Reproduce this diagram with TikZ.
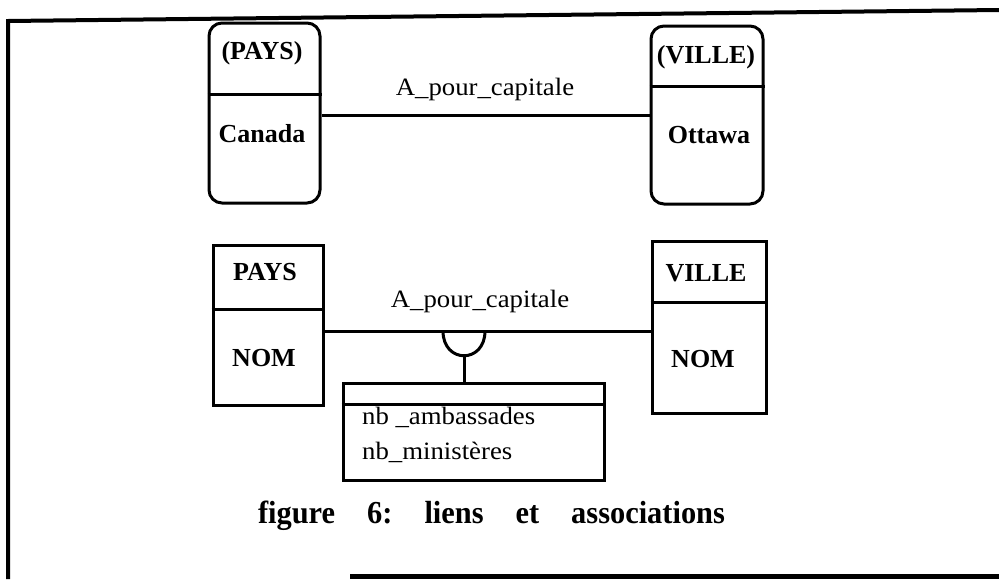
\documentclass[tikz,border=0pt]{standalone}
\usepackage{fontspec}
\setmainfont{Liberation Serif}
\newfontfamily\labfont[FakeStretch=1.07]{Liberation Serif}
\newfontfamily\capfont[FakeStretch=0.95]{Liberation Serif}
\begin{document}
\begin{tikzpicture}[x=1pt,y=-1pt,
  boxr/.style={draw, line width=3pt, rounded corners=13pt, inner sep=0pt},
  boxs/.style={draw, line width=3pt, inner sep=0pt},
  divline/.style={line width=3pt},
  link/.style={line width=3pt},
  frameline/.style={line width=4pt},
  bt/.style={font=\fontsize{26}{30}\selectfont\bfseries, anchor=base, inner sep=0pt},
  lt/.style={font=\labfont\fontsize{25}{29}\selectfont, anchor=base, inner sep=0pt},
  ltl/.style={font=\labfont\fontsize{25}{29}\selectfont, anchor=base west, inner sep=0pt},
  capt/.style={font=\capfont\fontsize{32}{36}\selectfont\bfseries, anchor=base, inner sep=0pt}]
\useasboundingbox (0,0) rectangle (999,579);
% frame
\coordinate (fbl) at (8,579);
\coordinate (ftl) at (8,21);
\coordinate (ftr) at (999,10);
\coordinate (fb1) at (350,576);
\coordinate (fb2) at (999,576);
\draw[frameline] (fbl) -- (ftl) -- (ftr);
\draw[line width=5pt] (fb1) -- (fb2);
% top diagram
\node[boxr, minimum width=111, minimum height=180] (pays1) at (264.5,113) {};
\node[boxr, minimum width=112, minimum height=178] (ville1) at (707,115) {};
\draw[divline] (pays1.west |- 0,94) -- (pays1.east |- 0,94);
\draw[divline] (ville1.west |- 0,86) -- (ville1.east |- 0,86);
\node[bt] (t1) at (262,59) {(PAYS)};
\node[bt] (t2) at (262,142) {Canada};
\node[bt] (t3) at (706,63) {(VILLE)};
\node[bt] (t4) at (709,143) {Ottawa};
\draw[link] (pays1.east |- 0,115) -- (ville1.west |- 0,115);
\node[lt] (l1) at (485,95) {A\_pour\_capitale};
% bottom diagram
\node[boxs, minimum width=110, minimum height=160] (pays2) at (268,325) {};
\node[boxs, minimum width=114, minimum height=172] (ville2) at (709,327) {};
\draw[divline] (pays2.west |- 0,309) -- (pays2.east |- 0,309);
\draw[divline] (ville2.west |- 0,302) -- (ville2.east |- 0,302);
\node[bt] (t5) at (265,280) {PAYS};
\node[bt] (t6) at (264,366) {NOM};
\node[bt] (t7) at (706,281) {VILLE};
\node[bt] (t8) at (703,367) {NOM};
\draw[link] (pays2.east |- 0,331) -- (ville2.west |- 0,331);
\node[lt] (l2) at (480,307) {A\_pour\_capitale};
% association
\node[boxs, minimum width=261, minimum height=97] (attr) at (473.5,431.5) {};
\draw[divline] (attr.west |- 0,404) -- (attr.east |- 0,404);
\coordinate (sl) at (443,331);
\coordinate (sr) at (485,331);
\coordinate (sb) at (464,356);
\draw[link] (sl) .. controls (443,364) and (485,364) .. (sr);
\draw[link] (sb) -- (sb |- attr.north);
\node[ltl] (a1) at (362,424) {nb \_ambassades};
\node[ltl] (a2) at (362,459) {nb\_ministères};
% caption
\node[capt] (cap) at (491.5,523) {figure\hspace{32pt}6:\hspace{32pt}liens\hspace{32pt}et\hspace{32pt}associations};
\end{tikzpicture}
\end{document}
